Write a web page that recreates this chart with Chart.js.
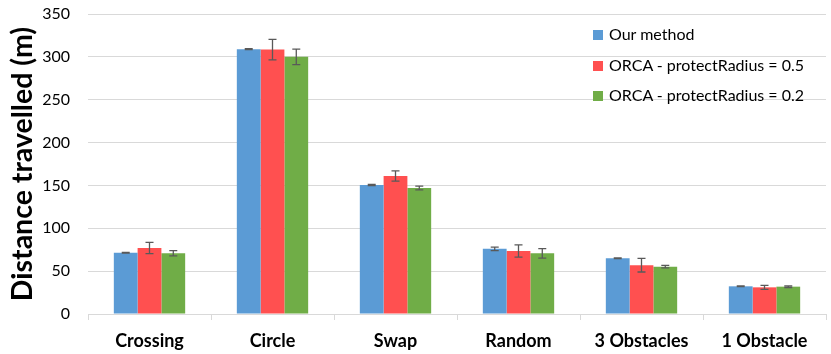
<!DOCTYPE html>
<html>
<head>
<meta charset="utf-8">
<script src="https://cdn.jsdelivr.net/npm/chart.js@4"></script>
<style>
  html, body { margin: 0; padding: 0; background: #fff; }
  #wrap { position: relative; width: 831px; height: 354px; }
  #legend { position: absolute; left: 593px; top: 24px; font-family: "Lato", sans-serif; font-size: 16px; color: #000; }
  #legend div { height: 30.5px; line-height: 20px; white-space: nowrap; }
  #legend span { display: inline-block; width: 10px; height: 10px; margin-right: 6px; }
</style>
</head>
<body>
<div id="wrap">
  <canvas id="chart" width="831" height="354"></canvas>
  <div id="legend"></div>
</div>
<script>
// values
const categories = ['Crossing', 'Circle', 'Swap', 'Random', '3 Obstacles', '1 Obstacle'];
const seriesNames = ['Our method', 'ORCA - protectRadius = 0.5', 'ORCA - protectRadius = 0.2'];
const ourMethod = [71.5, 309, 150.5, 76, 65, 32.3];
const orca05 = [77, 308.5, 161, 73.5, 57, 31.1];
const orca02 = [70.8, 300, 147, 70.8, 55.2, 31.9];
const ourMethodErr = [0.5, 0.5, 0.6, 2.1, 0.5, 0.4];
const orca05Err = [6.6, 12, 6, 7.2, 8, 2.3];
const orca02Err = [3.1, 9, 2.3, 5.5, 1.5, 1];
const colors = ['#5B9BD5', '#FF5050', '#70AD47'];

const values = [ourMethod, orca05, orca02];
const errors = [ourMethodErr, orca05Err, orca02Err];

// draw error bars from the bar elements and the y scale
const errorBars = {
    id: 'errorBars',
    afterDatasetsDraw(chart){
        const ctx = chart.ctx;
        const y = chart.scales.y;
        ctx.save();
        ctx.strokeStyle = '#595959';
        ctx.lineWidth = 1.3;
        chart.data.datasets.forEach((ds, i) => {
            chart.getDatasetMeta(i).data.forEach((bar, j) => {
                const v = ds.data[j], e = errors[i][j];
                const top = y.getPixelForValue(v + e);
                const bot = y.getPixelForValue(v - e);
                ctx.beginPath();
                ctx.moveTo(bar.x, top); ctx.lineTo(bar.x, bot);
                ctx.moveTo(bar.x - 4, top); ctx.lineTo(bar.x + 4, top);
                ctx.moveTo(bar.x - 4, bot); ctx.lineTo(bar.x + 4, bot);
                ctx.stroke();
            });
        });
        ctx.restore();
    }
};

const legend = document.getElementById('legend');
seriesNames.forEach((name, i) => {
    legend.innerHTML += `<div><span style="background:${colors[i]}"></span>${name}</div>`;
});

new Chart(document.getElementById('chart'), {
    type: 'bar',
    data: {
        labels: categories,
        datasets: seriesNames.map((name, i) => ({
            label: name,
            data: values[i],
            backgroundColor: colors[i],
            borderWidth: 0,
            barPercentage: 1,
            categoryPercentage: 0.58
        }))
    },
    options: {
        responsive: false,
        animation: false,
        layout: { padding: { left: 0, right: 5, top: 14, bottom: 0 } },
        plugins: {
            legend: { display: false },
            tooltip: { enabled: false }
        },
        scales: {
            x: {
                afterFit(scale){
                    scale.height = 40;
                    scale.paddingLeft = 0;
                    scale.paddingRight = 0;
                },
                grid: { drawOnChartArea: false, color: '#d9d9d9', tickLength: 6, offset: true },
                border: { color: '#d9d9d9', width: 1 },
                ticks: { color: '#000', font: { family: 'Lato', size: 18, weight: 'bold' }, padding: 10 }
            },
            y: {
                min: 0,
                max: 350,
                afterFit(scale){
                    scale.width = 88;
                    scale.paddingTop = 0;
                    scale.paddingBottom = 0;
                },
                ticks: { stepSize: 50, color: '#000', font: { family: 'Lato', size: 16 }, padding: 18 },
                grid: { color: '#d9d9d9', lineWidth: 1, drawTicks: false },
                border: { display: false },
                title: {
                    display: true,
                    text: 'Distance travelled (m)',
                    color: '#000',
                    font: { family: 'Lato', size: 28.5, weight: 'bold' },
                    padding: { top: 6, bottom: 0 }
                }
            }
        }
    },
    plugins: [errorBars]
});
</script>
</body>
</html>
